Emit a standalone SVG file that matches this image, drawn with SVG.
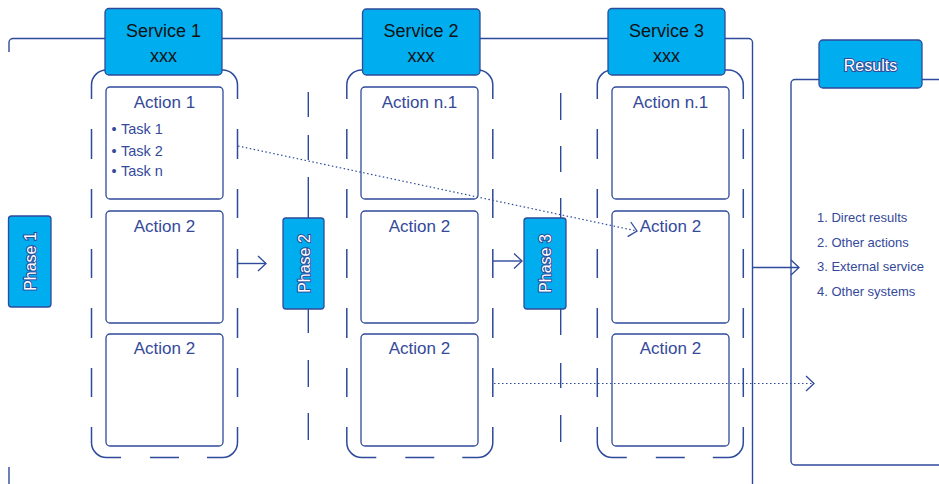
<svg xmlns="http://www.w3.org/2000/svg" width="939" height="484" viewBox="0 0 939 484">
<defs>
<style>
.ln{fill:none;stroke:#2e4a9b;stroke-width:1.4}
.cont{fill:none;stroke:#2e4a9b;stroke-width:1.5}
.box{fill:none;stroke:#2e4a9b;stroke-width:1.3}
.blue{fill:#00aeef;stroke:#2e4a9b;stroke-width:1.3}
.dot{fill:none;stroke:#2e4a9b;stroke-width:1.2;stroke-dasharray:1.5 2.5}
.act{font-family:"Liberation Sans",Arial,sans-serif;font-size:17px;fill:#34499a;text-anchor:middle}
.task{font-family:"Liberation Sans",Arial,sans-serif;font-size:14.5px;fill:#34499a}
.svc{font-family:"Liberation Sans",Arial,sans-serif;font-size:18px;fill:#111;text-anchor:middle}
.ph{font-family:"Liberation Sans",Arial,sans-serif;font-size:16px;fill:#fff;stroke:#2e4a9b;stroke-width:2;paint-order:stroke;text-anchor:middle}
.res{font-family:"Liberation Sans",Arial,sans-serif;font-size:13px;fill:#34499a}
</style>
<marker id="chev" markerUnits="userSpaceOnUse" markerWidth="12" markerHeight="18" refX="9" refY="8" orient="auto" overflow="visible">
<path d="M1,0.5 L9,8 L1,15.5" fill="none" stroke="#2e4a9b" stroke-width="1.3"/>
</marker>
<g id="colshape">
<path class="cont" d="M91.5 99 V85 A15 15 0 0 1 106.5 70 H222.5 A15 15 0 0 1 237.5 85 V99 M91.5 129 V159 M91.5 189 V218 M91.5 249 V278 M91.5 308 V338 M91.5 368 V397 M237.5 129 V159 M237.5 189 V218 M237.5 249 V278 M237.5 308 V338 M237.5 368 V397 M91.5 427 V442.5 A15 15 0 0 0 106.5 457.5 H121 M150 457.5 H179 M207 457.5 H222.5 A15 15 0 0 0 237.5 442.5 V427"/>
</g>
</defs>
<rect width="939" height="484" fill="#fff"/>

<g id="frame">
<path class="ln" d="M9 52 V42.5 A4 4 0 0 1 13 38.5 H748.5 A4 4 0 0 1 752.5 42.5 V484"/>
<path class="ln" d="M9 467 V484"/>
<path class="ln" d="M939 79.5 H795 A4 4 0 0 0 791 83.5 V461 A4 4 0 0 0 795 465 H939"/>
</g>

<g id="phase-lines">
<path class="ln" d="M308.3 92 V117 M308.3 135 V160 M308.3 177 V218 M308.3 309 V333 M308.3 360 V387 M308.3 413 V440"/>
<path class="ln" d="M560.7 93 V120 M560.7 146 V172 M560.7 198 V218 M560.7 309 V335 M560.7 363 V388 M560.7 415 V442"/>
</g>

<g id="column1">
<use href="#colshape"/>
<rect class="box" x="106" y="87" width="117" height="112" rx="4"/>
<rect class="box" x="106" y="211" width="117" height="112" rx="4"/>
<rect class="box" x="106" y="334" width="117" height="112" rx="4"/>
<text class="act" x="164.5" y="108">Action 1</text>
<text class="task" x="111.5" y="134">•</text>
<text class="task" x="121" y="134">Task 1</text>
<text class="task" x="111.5" y="156">•</text>
<text class="task" x="121" y="156">Task 2</text>
<text class="task" x="111.5" y="176">•</text>
<text class="task" x="121" y="176">Task n</text>
<text class="act" x="164.5" y="232">Action 2</text>
<text class="act" x="164.5" y="354">Action 2</text>
</g>

<g id="column2">
<use href="#colshape" transform="translate(255.3,0)"/>
<rect class="box" x="361" y="87" width="117" height="112" rx="4"/>
<rect class="box" x="361" y="211" width="117" height="112" rx="4"/>
<rect class="box" x="361" y="334" width="117" height="112" rx="4"/>
<text class="act" x="419.5" y="108">Action n.1</text>
<text class="act" x="419.5" y="232">Action 2</text>
<text class="act" x="419.5" y="354">Action 2</text>
</g>

<g id="column3">
<use href="#colshape" transform="translate(505.8,0)"/>
<rect class="box" x="612" y="87" width="117" height="112" rx="4"/>
<rect class="box" x="612" y="211" width="117" height="112" rx="4"/>
<rect class="box" x="612" y="334" width="117" height="112" rx="4"/>
<text class="act" x="670.5" y="108">Action n.1</text>
<text class="act" x="670.5" y="232">Action 2</text>
<text class="act" x="670.5" y="354">Action 2</text>
</g>

<g id="service1">
<rect class="blue" x="105" y="8.5" width="117" height="66.5" rx="4"/>
<text class="svc" x="163.5" y="37">Service 1</text>
<text class="svc" x="163.5" y="62">xxx</text>
</g>
<g id="service2">
<rect class="blue" x="362.5" y="9" width="117.5" height="66" rx="4"/>
<text class="svc" x="421" y="37">Service 2</text>
<text class="svc" x="421" y="62">xxx</text>
</g>
<g id="service3">
<rect class="blue" x="608" y="8.5" width="117" height="66.5" rx="4"/>
<text class="svc" x="666.5" y="37">Service 3</text>
<text class="svc" x="666.5" y="62">xxx</text>
</g>

<g id="phase1">
<rect class="blue" x="8.5" y="216" width="42.5" height="91" rx="3"/>
<text class="ph" transform="translate(35.5,261.5) rotate(-90)">Phase 1</text>
</g>
<g id="phase2">
<rect class="blue" x="283" y="218" width="41" height="91" rx="3"/>
<text class="ph" transform="translate(309.5,263.5) rotate(-90)">Phase 2</text>
</g>
<g id="phase3">
<rect class="blue" x="524" y="218" width="42" height="91" rx="3"/>
<text class="ph" transform="translate(551,263.5) rotate(-90)">Phase 3</text>
</g>

<g id="results">
<rect class="blue" x="819" y="40" width="103" height="48" rx="4"/>
<text class="ph" x="870.5" y="71">Results</text>
<text class="res" x="817" y="222">1. Direct results</text>
<text class="res" x="817" y="247">2. Other actions</text>
<text class="res" x="817" y="271">3. External service</text>
<text class="res" x="817" y="296">4. Other systems</text>
</g>

<g id="connectors">
<path class="ln" d="M237.5 263.5 H266" marker-end="url(#chev)"/>
<path class="ln" d="M493 261 H522" marker-end="url(#chev)"/>
<path class="ln" d="M753 267.5 H799" marker-end="url(#chev)"/>
<path class="dot" d="M238 146 L637 231" marker-end="url(#chev)"/>
<path class="dot" d="M494 383.5 H814" marker-end="url(#chev)"/>
</g>
</svg>
